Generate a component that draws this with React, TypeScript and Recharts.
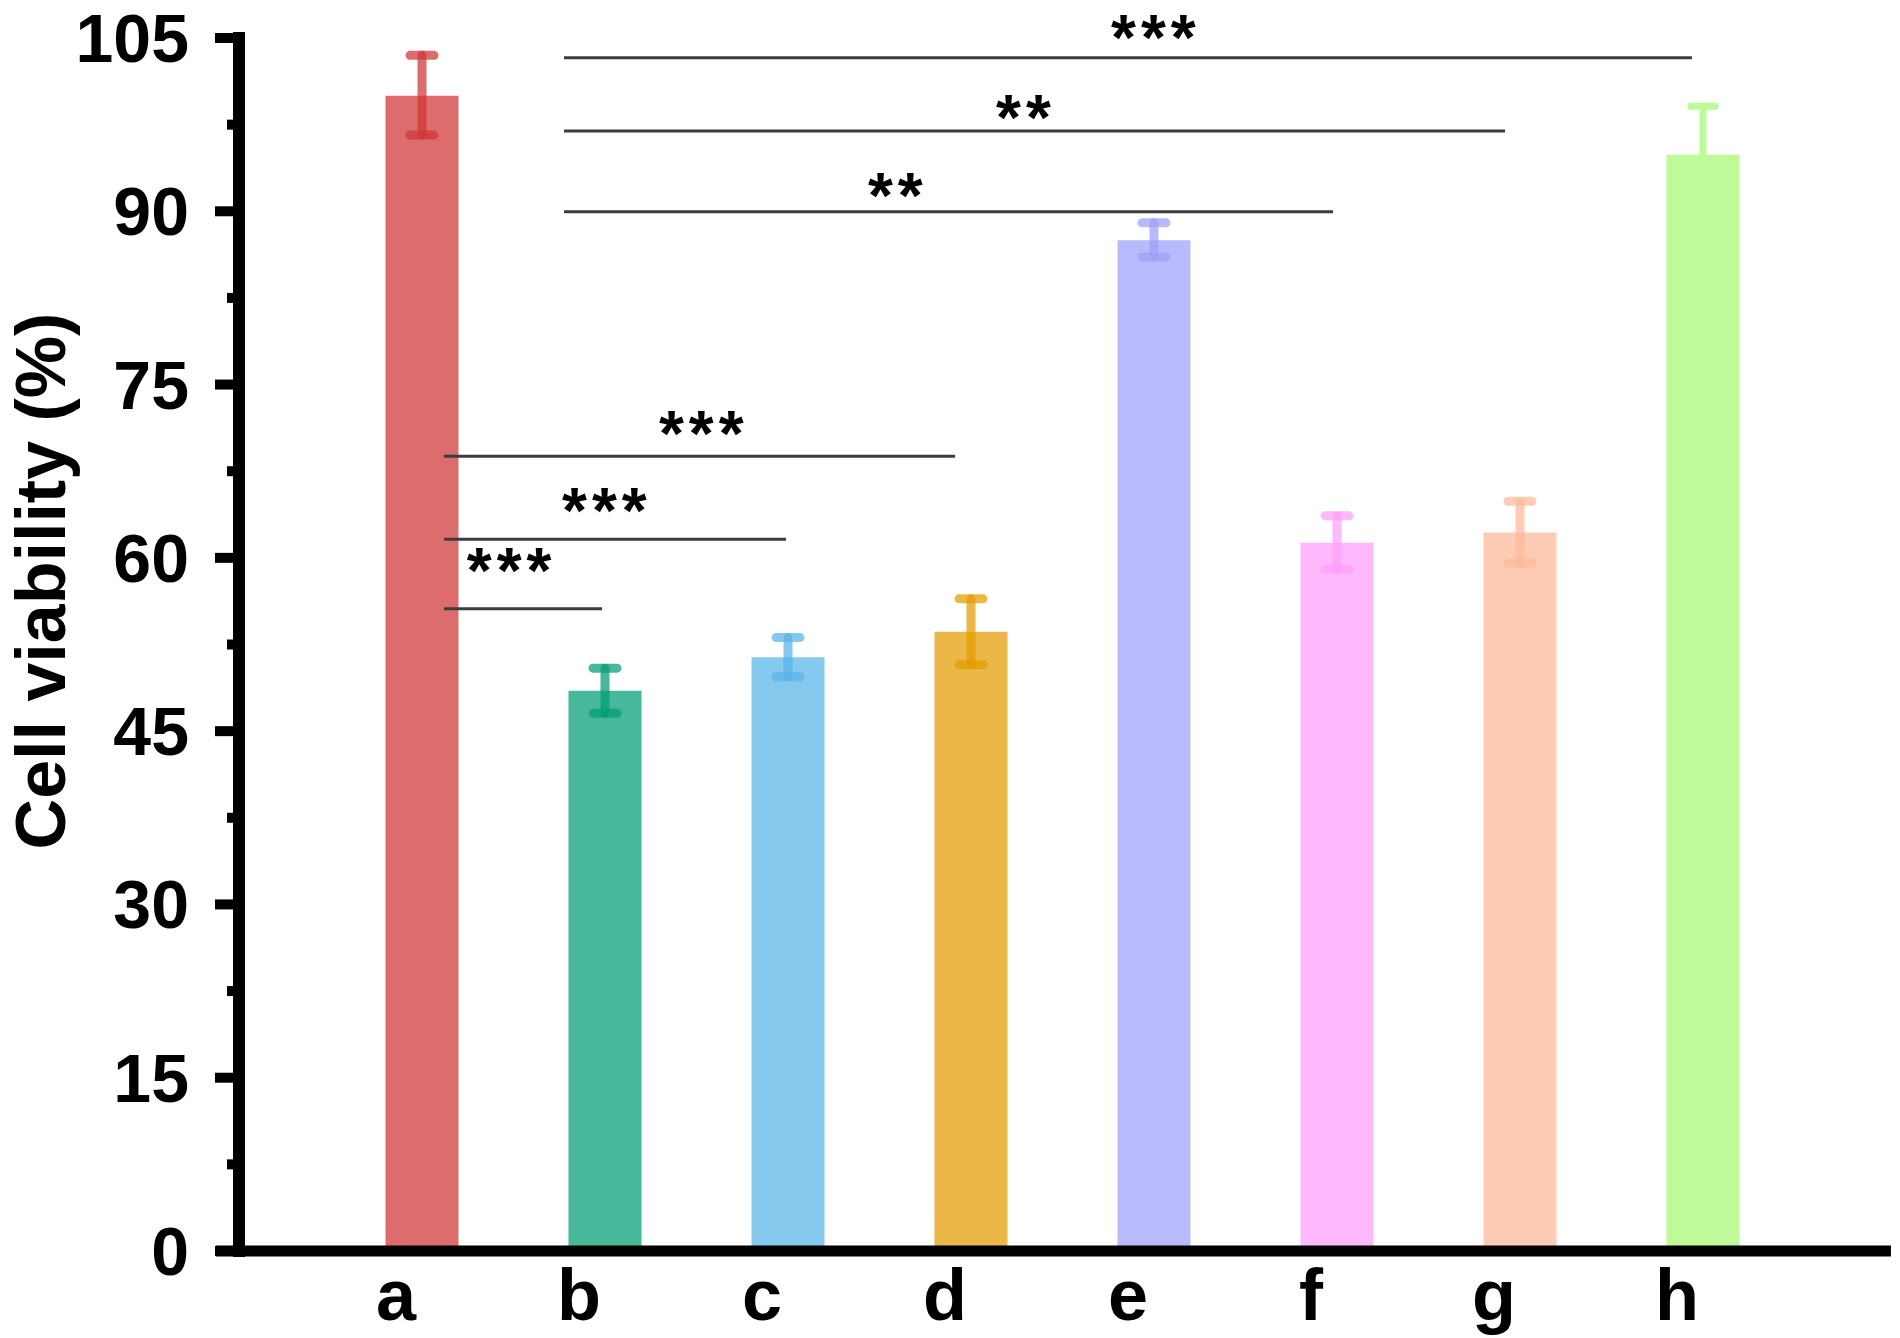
import React from "react";
import {
  ComposedChart,
  Bar,
  ErrorBar,
  XAxis,
  YAxis,
  ReferenceLine,
  ReferenceDot,
} from "recharts";

const categories = ["a", "b", "c", "d", "e", "f", "g", "h"];
const positions = [1, 2, 3, 4, 5, 6, 7, 8];
const viability = [100.0, 48.5, 51.4, 53.6, 87.5, 61.3, 62.2, 94.9];
const errLow = [3.4, 1.95, 1.7, 2.85, 1.45, 2.3, 2.65, 0.6];
const errHigh = [3.5, 1.95, 1.7, 2.85, 1.5, 2.35, 2.7, 4.2];
const barColors = ["#D03535", "#009E73", "#56B4E9", "#E39B00", "#9EA0F9", "#FC9EF9", "#FEB998", "#BEFB98"];
const barOpacity = [0.72, 0.72, 0.72, 0.72, 0.72, 0.72, 0.72, 1];

const majorTicks = [0, 15, 30, 45, 60, 75, 90, 105];
const minorTicks = [7.5, 22.5, 37.5, 52.5, 67.5, 82.5, 97.5];

// significance brackets (x in category positions, y in %)
const bracketStart = [1.776, 1.776, 1.776, 1.12, 1.12, 1.12];
const bracketEnd = [7.94, 6.918, 5.978, 3.913, 2.989, 1.984];
const bracketY = [103.3, 96.96, 89.96, 68.8, 61.6, 55.6];
const marks = ["***", "**", "**", "***", "***", "***"];
const markX = [5.01, 4.3, 3.6, 2.54, 2.01, 1.49];
const markY = [105.9, 98.9, 92.2, 71.6, 64.9, 59.7];

const FONT = "'Liberation Sans', Arial, sans-serif";

const data = categories.map((c, i) => ({
  pos: positions[i],
  [c]: viability[i],
  [c + "Err"]: [errLow[i], errHigh[i]],
}));

const Y_TICK_SIZE = 24;
const Y_TICK_MARGIN = 26;

function YTick(props: any) {
  const { x, y, payload } = props;
  const axisX = x + Y_TICK_SIZE + Y_TICK_MARGIN;
  const major = majorTicks.includes(payload.value);
  return (
    <g>
      <line
        x1={axisX - (major ? Y_TICK_SIZE : 12)}
        x2={axisX}
        y1={y}
        y2={y}
        stroke="#000"
        strokeWidth={10}
      />
      {major && (
        <text
          x={x}
          y={y + 24}
          textAnchor="end"
          fontFamily={FONT}
          fontWeight="bold"
          fontSize={68}
          fill="#000"
        >
          {payload.value}
        </text>
      )}
    </g>
  );
}

function XTick(props: any) {
  const { x, y, payload } = props;
  return (
    <text
      x={x - 26}
      y={y + 69}
      textAnchor="middle"
      fontFamily={FONT}
      fontWeight="bold"
      fontSize={72}
      fill="#000"
    >
      {categories[payload.value - 1]}
    </text>
  );
}

export default function App() {
  return (
    <div style={{ width: 1900, height: 1338, background: "#fff" }}>
      <style>{"body{margin:0}"}</style>
      <ComposedChart
        width={1900}
        height={1338}
        data={data}
        margin={{ top: 38, right: 14, bottom: 0, left: 0 }}
      >
        <XAxis
          type="number"
          dataKey="pos"
          domain={[0, 9]}
          ticks={positions}
          axisLine={false}
          tickLine={false}
          tickSize={0}
          tickMargin={0}
          height={87}
          tick={<XTick />}
        />
        <YAxis
          type="number"
          domain={[0, 105]}
          ticks={[...majorTicks, ...minorTicks].sort((p, q) => p - q)}
          width={239}
          tickSize={Y_TICK_SIZE}
          tickMargin={Y_TICK_MARGIN}
          tickLine={false}
          axisLine={{ stroke: "#000", strokeWidth: 12, strokeLinecap: "square" }}
          tick={<YTick />}
          interval={0}
        />
        {categories.map((c, i) => (
          <Bar
            key={c}
            dataKey={c}
            stackId="v"
            barSize={73}
            fill={barColors[i]}
            fillOpacity={barOpacity[i]}
            isAnimationActive={false}
          >
            <ErrorBar
              dataKey={c + "Err"}
              width={12}
              stroke={barColors[i]}
              strokeOpacity={barOpacity[i]}
              strokeWidth={i === 7 ? 7 : 9}
              strokeLinecap="round"
            />
          </Bar>
        ))}
        {bracketY.map((y, i) => (
          <ReferenceLine
            key={"br" + i}
            segment={[
              { x: bracketStart[i], y },
              { x: bracketEnd[i], y },
            ]}
            stroke="#3c3c3c"
            strokeWidth={3}
            ifOverflow="visible"
          />
        ))}
        {marks.map((m, i) => (
          <ReferenceDot
            key={"mk" + i}
            x={markX[i]}
            y={markY[i]}
            r={0}
            ifOverflow="visible"
            shape={(p: any) => (
              <text
                x={p.cx}
                y={p.cy + 32}
                textAnchor="middle"
                fontFamily={FONT}
                fontWeight="bold"
                fontSize={64}
                letterSpacing={5}
                fill="#000"
              >
                {m}
              </text>
            )}
          />
        ))}
        <ReferenceLine
          segment={[
            { x: -0.126, y: 0 },
            { x: 9.027, y: 0 },
          ]}
          stroke="#000"
          strokeWidth={11}
          ifOverflow="visible"
        />
      </ComposedChart>
      <svg
        width={120}
        height={700}
        style={{ position: "absolute", left: 0, top: 230 }}
      >
        <text
          transform="translate(65, 351) rotate(-90)"
          textAnchor="middle"
          fontFamily={FONT}
          fontWeight="bold"
          fontSize={70}
          fill="#000"
        >
          Cell viability (%)
        </text>
      </svg>
    </div>
  );
}
